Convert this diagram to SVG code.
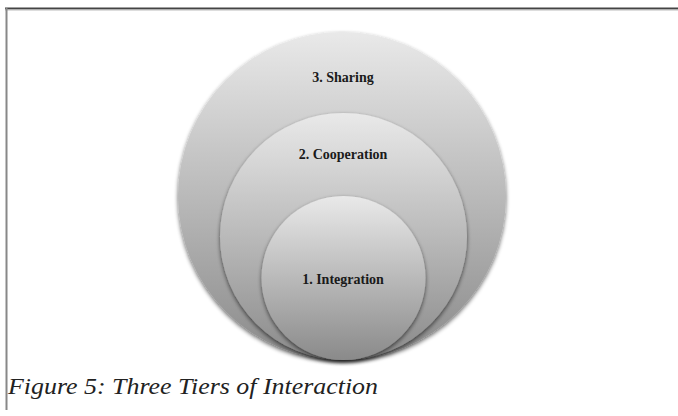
<svg xmlns="http://www.w3.org/2000/svg" width="678" height="416" viewBox="0 0 678 416">
<defs>
<linearGradient id="g" x1="0" y1="0" x2="0" y2="1">
<stop offset="0" stop-color="#e9e9e9"/>
<stop offset="1" stop-color="#8a8a8a"/>
</linearGradient>
<filter id="sh" x="-10%" y="-10%" width="120%" height="125%">
<feGaussianBlur in="SourceAlpha" stdDeviation="2"/>
<feOffset dy="2" result="b"/>
<feComponentTransfer><feFuncA type="linear" slope="0.6"/></feComponentTransfer>
<feMerge><feMergeNode/><feMergeNode in="SourceGraphic"/></feMerge>
</filter>
</defs>
<style>
.c{fill:url(#g);filter:url(#sh)}
.t{font-family:"Liberation Serif",serif;font-size:14px;font-weight:bold;fill:#1a1a1a;text-anchor:middle}
</style>
<rect width="678" height="416" fill="#fff"/>
<line x1="5" y1="8.5" x2="678" y2="8.5" stroke="#444" stroke-width="2"/>
<line x1="5" y1="10" x2="678" y2="10" stroke="#bbb" stroke-width="1"/>
<line x1="6.5" y1="8" x2="6.5" y2="410" stroke="#888" stroke-width="2"/>
<g id="tier3"><circle class="c" cx="342" cy="196" r="164"/><text class="t" x="343" y="82">3. Sharing</text></g>
<g id="tier2"><circle class="c" cx="343.5" cy="236.5" r="123.5"/><text class="t" x="343" y="159">2. Cooperation</text></g>
<g id="tier1"><circle class="c" cx="343.5" cy="278" r="82"/><text class="t" x="343" y="284">1. Integration</text></g>
<g id="connectors"/>
<text x="8" y="394" font-family="Liberation Serif,serif" font-style="italic" font-size="24" fill="#222" textLength="370" lengthAdjust="spacingAndGlyphs">Figure 5: Three Tiers of Interaction</text>
</svg>
